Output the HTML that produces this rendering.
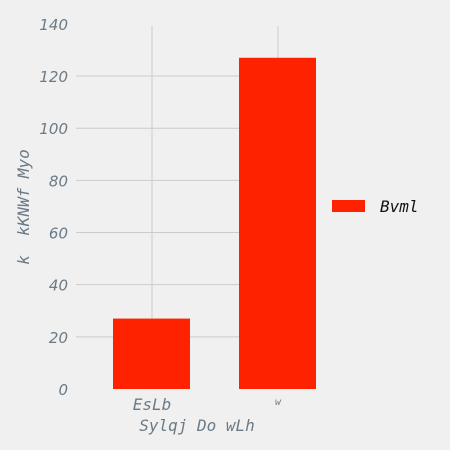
<!DOCTYPE html>
<html><head><meta charset="utf-8"><style>
body{margin:0;background:#f0f0f0;width:450px;height:450px;overflow:hidden}
svg{display:block}
.tk{font-family:"DejaVu Sans","Liberation Sans",sans-serif;font-style:italic;font-size:15px;fill:#6b7a85}
.mono{font-family:"DejaVu Sans Mono","Liberation Mono",monospace;font-style:italic;fill:#6b7a85;white-space:pre}
</style></head><body>
<svg id="chart" width="450" height="450">
<rect width="450" height="450" fill="#f0f0f0"/>
<g id="grid"></g><g id="bars"></g><g id="ticks"></g>
<text class="mono" x="197" y="431" font-size="16" text-anchor="middle">Sylqj Do wLh</text>
<text class="mono" transform="translate(29,207) rotate(-90)" font-size="16" text-anchor="middle">k  kKNWf Myo</text>
<g>
<rect x="332" y="200" width="33" height="12" fill="#ff2200"/>
<text x="380" y="212" font-family="DejaVu Sans Mono,Liberation Mono,monospace" font-style="italic" font-size="16" fill="#111">Bvml</text>
</g>
</svg>
<script>
const categories=["EsLb","w"];
const values=[27,127];
const yTicks=[0,20,40,60,80,100,120,140];
const ns="http://www.w3.org/2000/svg";
const x0=76,x1=316,yBase=389,pxPer=2.608;
const y=v=>yBase-v*pxPer;
const xc=i=>152+i*126;
const mk=(p,t,a)=>{const e=document.createElementNS(ns,t);for(const k in a)e.setAttribute(k,a[k]);p.appendChild(e);return e;};
const g=document.getElementById('grid'),b=document.getElementById('bars'),tk=document.getElementById('ticks');
yTicks.forEach(v=>{
 if(v>0&&v<140){const l=mk(g,'line',{x1:x0,x2:x1,y1:y(v),y2:y(v),stroke:'#cbcbcb','stroke-width':1});
 
 }
 const t=mk(tk,'text',{x:68,y:y(v)+6,'text-anchor':'end',class:'tk'});t.textContent=v;
 
 
});
categories.forEach((c,i)=>{
 const l=mk(g,'line',{x1:xc(i),x2:xc(i),y1:26,y2:yBase,stroke:'#cbcbcb','stroke-width':1});
 
 
 const r=mk(b,'rect',{x:xc(i)-39,width:77,y:y(values[i]),height:values[i]*pxPer,fill:'#ff2200'});
 
 
 const long=c.length>1;
 const t=mk(tk,'text',{x:xc(i),y:long?410:405,'text-anchor':'middle',class:'mono','font-size':long?16:10});t.textContent=c;
 
 
});
</script>
</body></html>
